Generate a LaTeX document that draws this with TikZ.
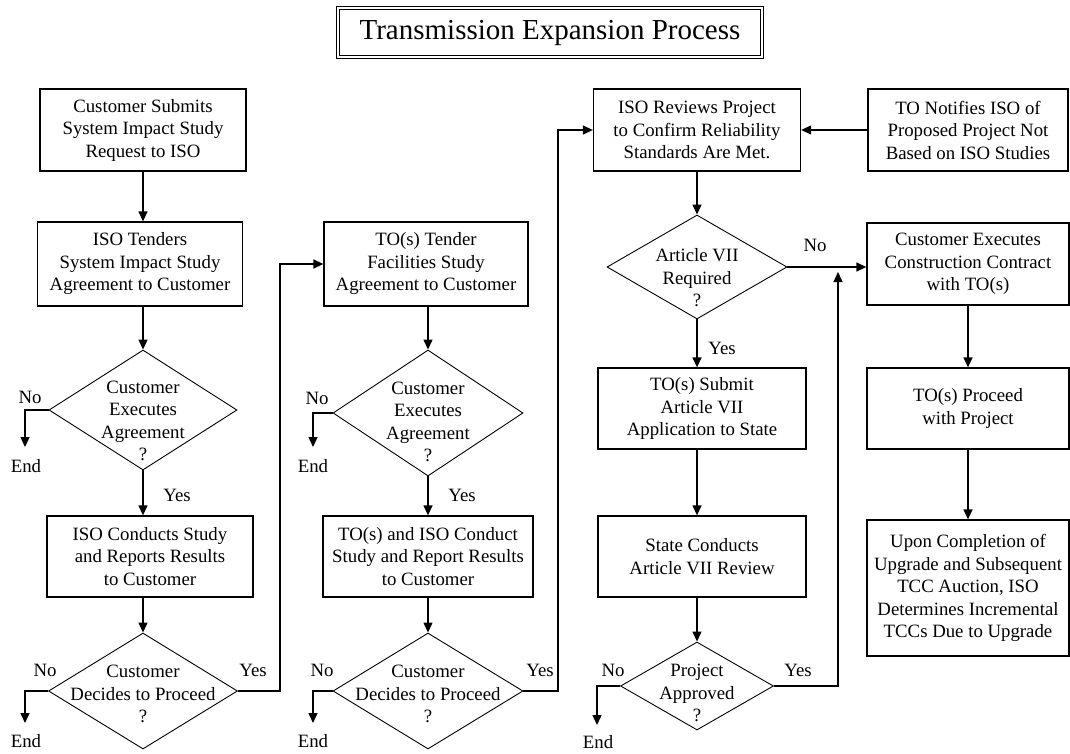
\documentclass[tikz,border=0pt]{standalone}
\usepackage{fontspec}
\setmainfont{Liberation Serif}
\usetikzlibrary{arrows.meta,shapes.geometric}

\begin{document}
\begin{tikzpicture}[x=1pt,y=-1pt,
    box/.style={draw,line width=1.3pt,align=center,inner sep=0pt,font=\fontsize{18.8}{22.5}\selectfont},
    decision/.style={diamond,draw,line width=0.9pt,inner sep=0pt},
    txt/.style={align=center,inner sep=0pt,font=\fontsize{18.8}{22.5}\selectfont},
    arr/.style={line width=1.3pt,-{Triangle[length=10pt,width=9pt]}},
    link/.style={line width=1.3pt}]
            \useasboundingbox (0,0) rectangle (1070,754);

            \node (title) at (550,32.5) [draw,double,double distance=2.5pt,line width=1.1pt,minimum width=424pt,minimum height=49pt,font=\fontsize{29}{34}\selectfont] {Transmission Expansion Process};

            % first column
            \node (b1) at (143,130) [box,minimum width=206pt,minimum height=82pt] {Customer Submits\\System Impact Study\\Request to ISO};
            \node (b2) at (140,264) [box,minimum width=205pt,minimum height=84pt] {ISO Tenders\\System Impact Study\\Agreement to Customer};
            \node (d1) at (143,410) [decision,minimum width=188pt,minimum height=120pt] {};
            \node (d1t) at (143,421) [txt] {Customer\\Executes\\Agreement\\?};
            \node (b3) at (150,556.5) [box,minimum width=206pt,minimum height=81pt] {ISO Conducts Study\\and Reports Results\\to Customer};
            \node (d2) at (143,691) [decision,minimum width=189pt,minimum height=116pt] {};
            \node (d2t) at (143,694) [txt] {Customer\\Decides to Proceed\\?};

            % second column
            \node (b4) at (426,264) [box,minimum width=204pt,minimum height=84pt] {TO(s) Tender\\Facilities Study\\Agreement to Customer};
            \node (d3) at (428,413) [decision,minimum width=190pt,minimum height=126pt] {};
            \node (d3t) at (428,422) [txt] {Customer\\Executes\\Agreement\\?};
            \node (b5) at (428,556.5) [box,minimum width=210pt,minimum height=81pt] {TO(s) and ISO Conduct\\Study and Report Results\\to Customer};
            \node (d4) at (428,691) [decision,minimum width=190pt,minimum height=116pt] {};
            \node (d4t) at (428,694) [txt] {Customer\\Decides to Proceed\\?};

            % third column
            \node (b6) at (697,130) [box,minimum width=207pt,minimum height=82pt] {ISO Reviews Project\\to Confirm Reliability\\Standards Are Met.};
            \node (d5) at (697,267) [decision,minimum width=180pt,minimum height=104pt] {};
            \node (d5t) at (697,278) [txt] {Article VII\\Required\\?};
            \node (b9) at (702,408.5) [box,minimum width=208pt,minimum height=81pt] {TO(s) Submit\\Article VII\\Application to State};
            \node (b10) at (702,556.5) [box,minimum width=208pt,minimum height=81pt] {State Conducts\\Article VII Review};
            \node (d6) at (697,686) [decision,minimum width=153pt,minimum height=88pt] {};
            \node (d6t) at (697,693) [txt] {Project\\Approved\\?};

            % fourth column
            \node (b7) at (968,130) [box,minimum width=200pt,minimum height=82pt] {TO Notifies ISO of\\Proposed Project Not\\Based on ISO Studies};
            \node (b8) at (968,264) [box,minimum width=202pt,minimum height=82pt] {Customer Executes\\Construction Contract\\with TO(s)};
            \node (b11) at (968,408.5) [box,minimum width=202pt,minimum height=81pt] {TO(s) Proceed\\with Project};
            \node (b12) at (968,588) [box,minimum width=202pt,minimum height=136pt] {Upon Completion of\\Upgrade and Subsequent\\TCC Auction, ISO\\Determines Incremental\\TCCs Due to Upgrade};

            % ends of the No branches
            \coordinate (e1) at (25,447);
            \coordinate (e2) at (25,723);
            \coordinate (e3) at (313,447);
            \coordinate (e4) at (313,723);
            \coordinate (e6) at (597,725);
            \node (end1) at (26,466) [txt] {End};
            \node (end2) at (26,741) [txt] {End};
            \node (end3) at (313,466) [txt] {End};
            \node (end4) at (313,741) [txt] {End};
            \node (end6) at (598,742) [txt] {End};

            % corners of the Yes branches
            \coordinate (j2) at (280,691);
            \coordinate (j4) at (558,691);
            \coordinate (j6) at (838,272);

            \node (no1) at (30,397) [txt] {No};
            \node (no2) at (45,670) [txt] {No};
            \node (no3) at (317,398) [txt] {No};
            \node (no4) at (322,670) [txt] {No};
            \node (no5) at (815,245) [txt] {No};
            \node (no6) at (613,670) [txt] {No};
            \node (yes1) at (177,495) [txt] {Yes};
            \node (yes2) at (253,670) [txt] {Yes};
            \node (yes3) at (462,495) [txt] {Yes};
            \node (yes4) at (540,670) [txt] {Yes};
            \node (yes5) at (722,348) [txt] {Yes};
            \node (yes6) at (798,670) [txt] {Yes};

            \draw[arr] (b1.south) -- (b1.south |- b2.north);
            \draw[arr] (b2.south -| d1.north) -- (d1.north);
            \draw[arr] (d1.south) -- (d1.south |- b3.north);
            \draw[arr] (d1.south |- b3.south) -- (d2.north);
            \draw[arr] (d1.west) -| (e1);
            \draw[arr] (d2.west) -| (e2);
            \draw[arr] (d2.east) -- (j2) |- (b4.west);

            \draw[arr] (b4.south -| d3.north) -- (d3.north);
            \draw[arr] (d3.south) -- (b5.north);
            \draw[arr] (b5.south) -- (d4.north);
            \draw[arr] (d3.west) -| (e3);
            \draw[arr] (d4.west) -| (e4);
            \draw[arr] (d4.east) -- (j4) |- (b6.west);

            \draw[arr] (b7.west) -- (b6.east);
            \draw[arr] (b6.south) -- (d5.north);
            \draw[arr] (d5.east) -- (d5.east -| b8.west);
            \draw[arr] (d5.south) -- (d5.south |- b9.north);
            \draw[arr] (d5.south |- b9.south) -- (d5.south |- b10.north);
            \draw[arr] (d5.south |- b10.south) -- (d6.north);
            \draw[arr] (d6.west) -| (e6);
            \draw[arr] (d6.east) -| (j6);

            \draw[arr] (b8.south) -- (b11.north);
            \draw[arr] (b11.south) -- (b12.north);
        \end{tikzpicture}
\end{document}
